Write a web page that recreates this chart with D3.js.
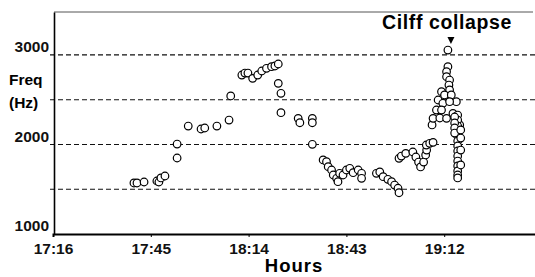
<!DOCTYPE html>
<html><head><meta charset="utf-8">
<script src="https://cdn.jsdelivr.net/npm/d3@7"></script>
<style>body{margin:0;background:#fff}svg{display:block}text{font-family:"Liberation Sans",Arial,sans-serif}</style>
</head><body><svg id="c" width="535" height="277"></svg>
<script>
// minutes elapsed since 17:16
const xTickMinutes = [0, 29, 58, 87, 116];
const xTickLabels = ["17:16", "17:45", "18:14", "18:43", "19:12"];
const yTickValues = [1000, 2000, 3000];
const gridValues = [1500, 2000, 2500, 3000];
const pointMinutes = [
  24.0,24.9,27.0,30.8,31.4,32.0,33.2,
  36.8,36.8,40.1,43.9,45.0,48.6,52.2,52.7,
  56.0,56.9,57.8,59.2,60.7,61.9,63.3,64.8,65.8,66.8,
  66.8,67.6,67.6,72.7,73.2,76.9,76.9,76.9,
  80.1,81.1,81.6,82.6,83.1,84.1,84.5,85.0,86.0,87.0,88.0,89.0,90.5,91.5,91.5,
  95.9,96.9,97.9,99.3,100.4,101.3,102.3,102.6,
  102.6,103.3,104.6,106.7,107.6,108.4,109.0,109.9,110.5,110.8,110.7,111.7,112.7,112.4,
  117.1,117.1,116.7,116.7,117.6,117.4,117.6,115.2,116.1,118.1,119.6,114.2,115.6,117.6,
  113.7,115.2,112.7,114.7,116.7,118.6,119.6,120.6,
  120.0,120.0,120.0,120.0,120.0,120.0,120.0,120.0,120.0,120.0,120.0,120.0,120.0,120.0,
  119.1,119.1,119.1,119.1,120.9,120.9,120.9,120.9
];
const pointFreqs = [
  1570,1570,1581,1592,1581,1626,1648,
  2005,1849,2206,2173,2184,2206,2273,2542,
  2776,2798,2798,2739,2776,2821,2851,2869,2877,2899,
  2683,2572,2355,2292,2243,2292,2243,2002,
  1827,1808,1752,1715,1659,1622,1584,1678,1659,1715,1734,1685,1715,1678,1622,
  1678,1693,1640,1611,1584,1547,1511,1461,
  1846,1871,1901,1916,1860,1804,1749,1804,1883,1938,1994,2013,2024,2218,
  3055,2869,2813,2757,2720,2664,2609,2590,2553,2553,2478,2497,2460,2478,
  2385,2385,2292,2296,2292,2348,2310,2218,
  2329,2273,2206,2151,2095,2039,1983,1927,1871,1815,1760,1704,1659,1626,
  2307,2240,2184,2128,2162,2072,1938,1771
];
const eventLabel = "Cilff collapse";
const eventMinute = 118.0;

const svg = d3.select("#c");
const x = d3.scaleLinear().domain([0, 145]).range([53, 542]);
const y = d3.scaleLinear().domain([1000, 3480]).range([234, 12]);

// top border
svg.append("line").attr("x1", 54).attr("x2", 533).attr("y1", y(3480)).attr("y2", y(3480))
  .attr("stroke", "#555").attr("stroke-width", 1);

// gridlines
svg.append("g").selectAll("line").data(gridValues).join("line")
  .attr("x1", 50).attr("x2", 535).attr("y1", d => y(d)).attr("y2", d => y(d))
  .attr("stroke", "#111").attr("stroke-width", 1.2).attr("stroke-dasharray", "5,3");

// x axis
const xAxis = d3.axisBottom(x).tickValues(xTickMinutes).tickFormat((d, i) => xTickLabels[i]).tickSizeOuter(0).tickSize(3);
const gx = svg.append("g").attr("transform", `translate(0,${y(1000)})`).call(xAxis);
gx.select(".domain").attr("stroke", "#000").attr("stroke-width", 2);
gx.selectAll("text").attr("font-size", 15.5).attr("font-weight", "bold").attr("fill", "#111")
  .attr("font-family", '"Liberation Sans",Arial,sans-serif').attr("y", 9);

// y axis
const yAxis = d3.axisLeft(y).tickValues(yTickValues).tickFormat(d3.format("d")).tickSize(0).tickSizeOuter(0);
const gy = svg.append("g").attr("transform", "translate(54,0)").call(yAxis);
gy.select(".domain").attr("stroke", "#000").attr("stroke-width", 1.6);
gy.selectAll("text").attr("font-size", 15.5).attr("font-weight", "bold").attr("fill", "#111")
  .attr("font-family", '"Liberation Sans",Arial,sans-serif').attr("x", -5).attr("dy", "-0.2em");

// axis titles
svg.append("text").attr("x", 9).attr("y", 85).attr("font-size", 15.5).attr("font-weight", "bold").text("Freq");
svg.append("text").attr("x", 9).attr("y", 108).attr("font-size", 15.5).attr("font-weight", "bold").text("(Hz)");
svg.append("text").attr("x", 294).attr("y", 272).attr("text-anchor", "middle").attr("font-size", 18.5)
  .attr("font-weight", 600).attr("letter-spacing", 1).text("Hours");

// points
svg.append("g").selectAll("circle").data(pointMinutes).join("circle")
  .attr("cx", d => x(d)).attr("cy", (d, i) => y(pointFreqs[i])).attr("r", 3.8)
  .attr("fill", "#fff").attr("stroke", "#000").attr("stroke-width", 1.2);

// event annotation
const ex = x(eventMinute);
svg.append("path").attr("d", `M${ex - 3.5},37 L${ex + 3.5},37 L${ex},44 Z`).attr("fill", "#000");
svg.append("text").attr("x", 447).attr("y", 28.5).attr("text-anchor", "middle").attr("font-size", 19.5)
  .attr("font-weight", "bold").attr("letter-spacing", 0.6).text(eventLabel);
</script></body></html>
